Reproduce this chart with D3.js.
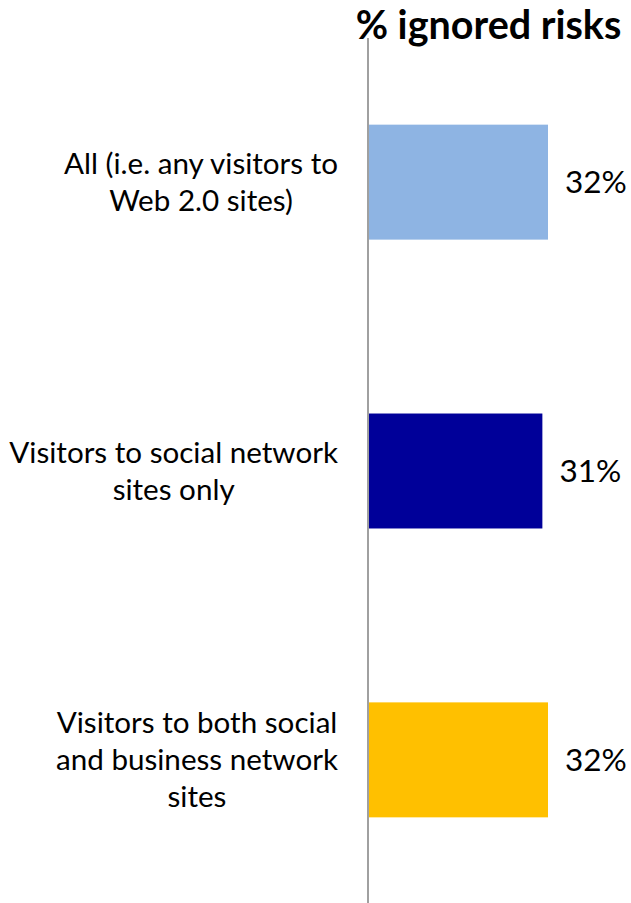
<!DOCTYPE html>
<html>
<head>
<meta charset="utf-8">
<script src="https://cdn.jsdelivr.net/npm/d3@7"></script>
<style>
  html, body { margin: 0; padding: 0; background: #ffffff; }
  svg { display: block; }
  text { font-family: Lato, "Open Sans", sans-serif; fill: #000; }
</style>
</head>
<body>
<script>
// Share of visitors who ignored risks, by visitor group
const categories = [
  ["All (i.e. any visitors to", "Web 2.0 sites)"],
  ["Visitors to social network", "sites only"],
  ["Visitors to both social", "and business network", "sites"]
];
const values = [32, 31, 32];
const barColors = ["#8EB4E3", "#000099", "#FFC000"];
const title = "% ignored risks";

const width = 631, height = 903;
const svg = d3.select("body").append("svg")
  .attr("width", width).attr("height", height);

const axisX = 368;
const x = d3.scaleLinear().domain([0, 40]).range([axisX, axisX + 225]);
const y = d3.scaleBand()
  .domain(d3.range(categories.length))
  .range([38, 904])
  .paddingInner(0.602)
  .paddingOuter(0.3);

// bars
svg.selectAll("rect.bar")
  .data(values)
  .join("rect")
  .attr("class", "bar")
  .attr("x", x(0))
  .attr("y", (d, i) => y(i))
  .attr("width", d => x(d) - x(0))
  .attr("height", y.bandwidth())
  .attr("fill", (d, i) => barColors[i]);

// vertical category axis line
svg.append("line")
  .attr("x1", axisX).attr("x2", axisX)
  .attr("y1", 38).attr("y2", height)
  .attr("stroke", "#a0a0a0").attr("stroke-width", 2);

// value labels
svg.selectAll("text.val")
  .data(values)
  .join("text")
  .attr("class", "val")
  .attr("x", d => x(d) + 17)
  .attr("y", (d, i) => y(i) + y.bandwidth() / 2)
  .attr("dy", "0.35em")
  .style("font-size", "31.5px")
  .text(d => d + "%");

// category labels: each block centred on its widest line, right edge at 338
const labelRight = 338, lineH = 37;
categories.forEach((lines, i) => {
  const g = svg.append("g");
  const cy = y(i) + y.bandwidth() / 2;
  const t = g.selectAll("text")
    .data(lines)
    .join("text")
    .style("font-size", "29.6px")
    .attr("text-anchor", "middle")
    .attr("y", (d, k) => cy + (k - (lines.length - 1) / 2) * lineH)
    .attr("dy", "0.35em")
    .text(d => d);
  let maxW = 0;
  t.each(function () { maxW = Math.max(maxW, this.getComputedTextLength()); });
  t.attr("x", labelRight - maxW / 2);
});

// title
svg.append("text")
  .attr("x", 488.5)
  .attr("y", 39)
  .attr("text-anchor", "middle")
  .style("font-size", "39.5px")
  .style("font-weight", "bold")
  .text(title);
</script>
</body>
</html>
